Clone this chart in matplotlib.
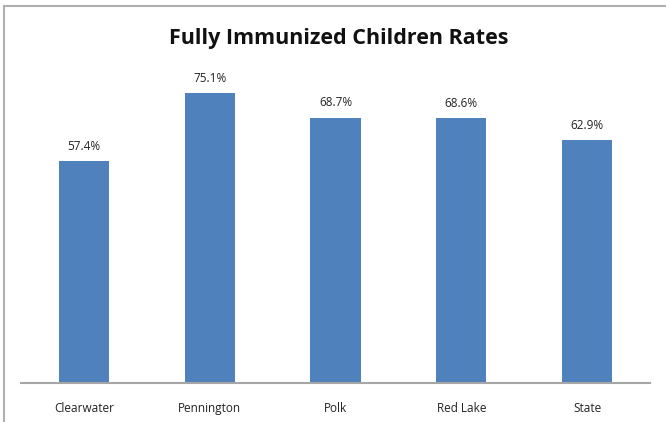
import matplotlib.pyplot as plt
from matplotlib.lines import Line2D

# datos del grafico
condados = ['Clearwater', 'Pennington', 'Polk', 'Red Lake', 'State']
tasas = [57.4, 75.1, 68.7, 68.6, 62.9]
etiquetas = ['57.4%', '75.1%', '68.7%', '68.6%', '62.9%']

plt.rcParams['font.family'] = ['Open Sans', 'DejaVu Sans']

fig = plt.figure(figsize=(6.66, 4.22), dpi=100)
ax = fig.add_axes([0.0315, 0.0924, 0.9445, 0.7322])

barras = ax.bar(condados, tasas, width=0.4, color='#4F81BD')
ax.bar_label(barras, labels=etiquetas, padding=6, fontsize=8.5, color='#222222')

ax.set_xlim(-0.5, 4.5)
ax.set_ylim(0, 80)
ax.set_yticks([])
for lado in ['top', 'right', 'left']:
    ax.spines[lado].set_visible(False)
ax.spines['bottom'].set_color('#A6A6A6')
ax.spines['bottom'].set_linewidth(1.5)
ax.tick_params(axis='x', length=0, pad=14, labelsize=8.5, colors='#222222')

fig.text(0.508, 0.908, 'Fully Immunized Children Rates', ha='center', va='center',
         fontsize=15.5, fontweight='bold', color='#111111')

# borde del cuadro (recortado a la derecha y abajo)
fig.add_artist(Line2D([0.006, 1.0], [0.986, 0.986], color='#B0B0B0', lw=1.5))
fig.add_artist(Line2D([0.006, 0.006], [0.0, 0.986], color='#B0B0B0', lw=1.5))

fig.savefig('out.png', dpi=100)
